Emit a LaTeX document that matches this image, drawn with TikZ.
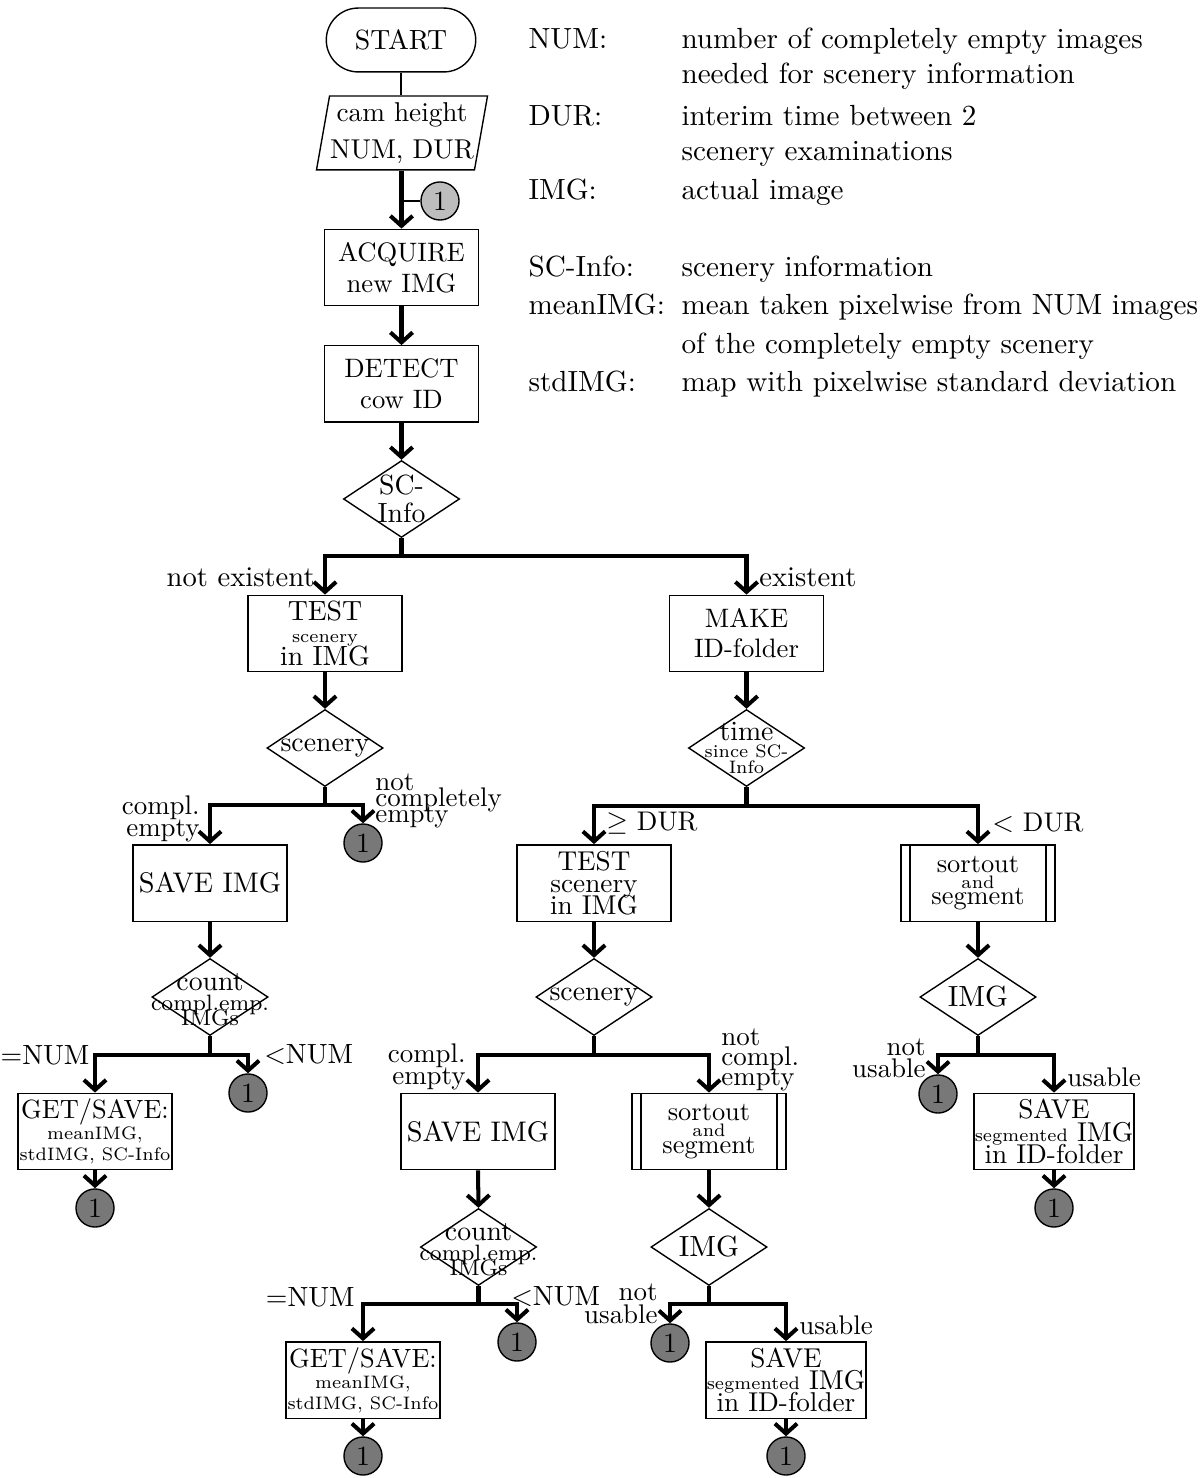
\documentclass[tikz,border=0pt]{standalone}
\usetikzlibrary{shapes.geometric,shapes.misc,arrows.meta}
\newcommand{\myfs}[2]{\fontsize{#1}{#2}\selectfont}
\definecolor{cdark}{gray}{0.47}
\definecolor{clight}{gray}{0.74}
\begin{document}
\lineskiplimit=-100pt
\begin{tikzpicture}[x=0.36pt,y=-0.36pt,
  every node/.style={inner sep=1pt, font=\myfs{9.7}{11.6}},
  box/.style={draw, rectangle, line width=0.5pt, minimum width=55.4pt, minimum height=27.5pt, inner sep=0.3pt, align=center},
  sub/.style={box, path picture={\draw[line width=0.5pt]
      ([xshift=3.2pt]path picture bounding box.north west) -- ([xshift=3.2pt]path picture bounding box.south west)
      ([xshift=-3.2pt]path picture bounding box.north east) -- ([xshift=-3.2pt]path picture bounding box.south east);}},
  dia/.style={draw, diamond, line width=0.5pt, minimum width=41.8pt, minimum height=27.7pt, inner sep=0pt},
  dtext/.style={align=center, inner sep=0pt, font=\myfs{10}{12}},
  conn/.style={circle, draw, line width=0.5pt, fill=cdark, minimum size=13.7pt, inner sep=0pt, font=\myfs{10}{12}},
  flow/.style={line width=1.45pt},
  arr/.style={flow, -{Straight Barb[length=3.6pt,width=8pt]}},
  leg/.style={anchor=base west, inner sep=0pt, font=\myfs{10.5}{12.6}}
]
\useasboundingbox (0,0) rectangle (1200,1478);

% legend
\node[leg] (k1) at (528,49) {NUM:};
\node[leg] (v1) at (681,49) {number of completely empty images};
\node[leg] (v1b) at (681,84) {needed for scenery information};
\node[leg] (k2) at (528,126) {DUR:};
\node[leg] (v2) at (681,126) {interim time between 2};
\node[leg] (v2b) at (681,161) {scenery examinations};
\node[leg] (k3) at (528,200) {IMG:};
\node[leg] (v3) at (681,200) {actual image};
\node[leg] (k4) at (528,277) {SC-Info:};
\node[leg] (v4) at (681,277) {scenery information};
\node[leg] (k5) at (528,315) {meanIMG:};
\node[leg] (v5) at (681,315) {mean taken pixelwise from NUM images};
\node[leg] (v5b) at (681,354) {of the completely empty scenery};
\node[leg] (k6) at (528,392) {stdIMG:};
\node[leg] (v6) at (681,392) {map with pixelwise standard deviation};

% main column
\node[draw, rounded rectangle, line width=0.5pt, minimum width=55.8pt, minimum height=23pt, font=\myfs{10}{12}] (start) at (401,40) {START};
\node[draw, trapezium, trapezium left angle=78, trapezium right angle=102, trapezium stretches=true,
      minimum width=61.9pt, minimum height=26.6pt, inner sep=0pt, line width=0.5pt, align=center,
      font=\myfs{9.8}{13.2}] (par) at (402,133) {cam height\\NUM, DUR};
\node[conn, fill=clight] (c0) at (440,201) {1};
\node[box, font=\myfs{9.6}{11.2}] (acq) at (401.5,267.5) {ACQUIRE\\new IMG};
\node[box, font=\myfs{9.6}{11.2}] (det) at (401.5,384) {DETECT\\cow ID};
\node[dia, label={[dtext, font=\myfs{10}{10}]center:SC-\\Info}] (d1) at (401.5,499) {};
\coordinate (j1) at (401.5,556);

% left branch
\node[box, font=\myfs{10}{8.1}] (test1) at (325,633.5) {TEST\\{\myfs{6.5}{8}scenery}\\in IMG};
\node[anchor=east, font=\myfs{10.3}{12}] (lne) at (318,577) {not existent};
\node[dia, label={[dtext]center:scenery}] (d2) at (325,748) {};
\coordinate (j2) at (325,805);
\node[box, font=\myfs{10.2}{12}] (save1) at (210,883) {SAVE IMG};
\node[conn] (c1) at (363,843) {1};
\node[anchor=east, align=right, font=\myfs{9.7}{8}] (lce1) at (203,819) {compl.\\empty};
\node[anchor=west, align=left, font=\myfs{9.7}{5.8}] (lnce1) at (372,801) {not\\completely\\empty};
\node[dia, label={[dtext, font=\myfs{10}{5.5}, yshift=-1pt]center:count\\[1.5pt]{\myfs{8}{5}compl.emp.}\\{\myfs{8}{5}IMGs}}] (d3) at (210,997) {};
\coordinate (j3) at (210,1055);
\node[box, font=\myfs{9.5}{7.6}] (gs1) at (95,1131.5) {GET/SAVE:\\{\myfs{6.5}{8}meanIMG,}\\{\myfs{6.5}{8}stdIMG, SC-Info}};
\node[conn] (c2) at (248,1093) {1};
\node[conn] (c3) at (95,1208) {1};
\node[anchor=east, inner sep=0pt, font=\myfs{10}{12}] (leq1) at (90,1055) {$=$NUM};
\node[anchor=west, font=\myfs{10}{12}] (llt1) at (261,1055) {$<$NUM};

% right branch
\node[box, font=\myfs{9.6}{10.8}] (make) at (746.5,633.5) {MAKE\\ID-folder};
\node[anchor=west, font=\myfs{10.3}{12}] (le) at (756,577) {existent};
\node[dia, label={[dtext, font=\myfs{10}{6}]center:time\\{\myfs{6.5}{6}since SC-}\\{\myfs{6.5}{6}Info}}] (d4) at (746.5,748) {};
\coordinate (j4) at (746.5,806);
\node[box, font=\myfs{9.8}{8}] (test2) at (594,883) {TEST\\scenery\\in IMG};
\node[sub, font=\myfs{9.5}{5.8}] (sort1) at (978,883) {sortout\\{\myfs{6.5}{5.8}and}\\segment};
\node[anchor=west] (lge) at (603,823) {$\geq$ DUR};
\node[anchor=west] (llt) at (989,823) {$<$ DUR};
\node[dia, label={[dtext]center:scenery}] (d5) at (594,997) {};
\coordinate (j5) at (594,1055);
\node[dia, label={[dtext, font=\myfs{10.5}{12}]center:IMG}] (d6) at (978,997) {};
\coordinate (j6) at (978,1055);
\node[conn] (c4) at (938,1094) {1};
\node[box, font=\myfs{9.8}{8}] (ss1) at (1054,1131.5) {SAVE\\{\myfs{6.5}{8}segmented} IMG\\in ID-folder};
\node[conn] (c5) at (1054,1208) {1};
\node[anchor=east, align=right, font=\myfs{9.7}{8}] (lnu1) at (929,1058) {not\\usable};
\node[anchor=west] (lu1) at (1064,1077) {usable};

\node[box, font=\myfs{10.2}{12}] (save2) at (478,1131.5) {SAVE IMG};
\node[sub, font=\myfs{9.5}{5.8}] (sort2) at (709,1131.5) {sortout\\{\myfs{6.5}{5.8}and}\\segment};
\node[anchor=east, align=right, font=\myfs{9.7}{8}] (lce2) at (469,1067) {compl.\\empty};
\node[anchor=west, align=left, font=\myfs{9.7}{7.2}] (lnce2) at (718,1060) {not\\compl.\\empty};
\node[dia, label={[dtext, font=\myfs{10}{5.5}, yshift=-1pt]center:count\\[1.5pt]{\myfs{8}{5}compl.emp.}\\{\myfs{8}{5}IMGs}}] (d7) at (478.5,1247) {};
\node[dia, label={[dtext, font=\myfs{10.5}{12}]center:IMG}] (d8) at (709,1247) {};
\coordinate (j7) at (478.5,1304);
\coordinate (j8) at (709,1304);
\node[conn] (c6) at (517,1342) {1};
\node[box, font=\myfs{9.5}{7.6}] (gs2) at (363,1380) {GET/SAVE:\\{\myfs{6.5}{8}meanIMG,}\\{\myfs{6.5}{8}stdIMG, SC-Info}};
\node[conn] (c7) at (363,1456) {1};
\node[anchor=east, font=\myfs{10}{12}] (leq2) at (358,1297) {$=$NUM};
\node[anchor=west, font=\myfs{10}{12}] (llt2) at (508,1297) {$<$NUM};
\node[conn] (c8) at (670,1343) {1};
\node[box, font=\myfs{9.8}{8}] (ss2) at (786,1380) {SAVE\\{\myfs{6.5}{8}segmented} IMG\\in ID-folder};
\node[conn] (c9) at (786,1456) {1};
\node[anchor=east, align=right, font=\myfs{9.7}{8.5}] (lnu2) at (661,1304) {not\\usable};
\node[anchor=west] (lu2) at (796,1325) {usable};

% connectors
\draw[line width=0.5pt] (start.south) -- (start.south |- par.north);
\draw[arr] (par.south -| acq.north) -- (acq.north);
\draw[line width=0.7pt] (c0.west) -- (c0.west -| acq.north);
\draw[arr] (acq.south) -- (det.north);
\draw[arr] (det.south) -- (d1.north);
\draw[flow] (d1.south) -- (j1);
\draw[arr] (j1) -| (test1.north);
\draw[arr] (j1) -| (make.north);
\draw[arr] (test1.south) -- (d2.north);
\draw[flow] (d2.south) -- (j2);
\draw[arr] (j2) -| (save1.north);
\draw[arr] (j2) -| (c1.north);
\draw[arr] (save1.south) -- (d3.north);
\draw[flow] (d3.south) -- (j3);
\draw[arr] (j3) -| (gs1.north);
\draw[arr] (j3) -| (c2.north);
\draw[arr] (gs1.south) -- (c3.north);
\draw[arr] (make.south) -- (d4.north);
\draw[flow] (d4.south) -- (j4);
\draw[arr] (j4) -| (test2.north);
\draw[arr] (j4) -| (sort1.north);
\draw[arr] (test2.south) -- (d5.north);
\draw[flow] (d5.south) -- (j5);
\draw[arr] (j5) -| (save2.north);
\draw[arr] (j5) -| (sort2.north);
\draw[arr] (sort1.south) -- (d6.north);
\draw[flow] (d6.south) -- (j6);
\draw[arr] (j6) -| (c4.north);
\draw[arr] (j6) -| (ss1.north);
\draw[arr] (ss1.south) -- (c5.north);
\draw[arr] (save2.south) -- (d7.north);
\draw[arr] (sort2.south) -- (d8.north);
\draw[flow] (d7.south) -- (j7);
\draw[arr] (j7) -| (gs2.north);
\draw[arr] (j7) -| (c6.north);
\draw[arr] (gs2.south) -- (c7.north);
\draw[flow] (d8.south) -- (j8);
\draw[arr] (j8) -| (c8.north);
\draw[arr] (j8) -| (ss2.north);
\draw[arr] (ss2.south) -- (c9.north);
\end{tikzpicture}
\end{document}
